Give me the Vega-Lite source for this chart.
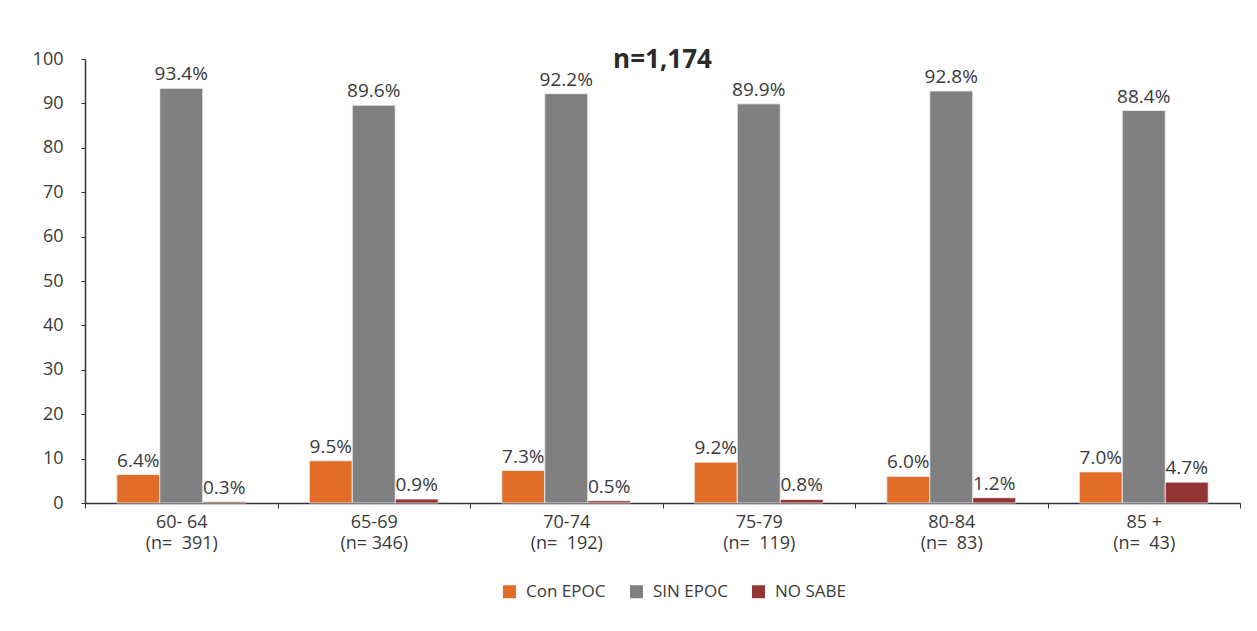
{
  "$schema": "https://vega.github.io/schema/vega-lite/v6.json",
  "width": 1155,
  "height": 444,
  "autosize": {"type": "none"},
  "padding": {"left": 85, "top": 59, "right": 17, "bottom": 128},
  "background": "white",
  "config": {
    "view": {"stroke": null},
    "font": "Open Sans",
    "text": {"font": "Open Sans"}
  },
  "title": {
    "text": "n=1,174",
    "fontSize": 26,
    "fontWeight": "bold",
    "font": "Open Sans",
    "color": "#2b2b2b",
    "anchor": "middle",
    "offset": -23
  },
  "data": {
    "values": [
      {"grupo": "60- 64|(n=\u00a0 391)", "serie": "Con EPOC", "valor": 6.4},
      {"grupo": "60- 64|(n=\u00a0 391)", "serie": "SIN EPOC", "valor": 93.4},
      {"grupo": "60- 64|(n=\u00a0 391)", "serie": "NO SABE", "valor": 0.3},
      {"grupo": "65-69|(n= 346)", "serie": "Con EPOC", "valor": 9.5},
      {"grupo": "65-69|(n= 346)", "serie": "SIN EPOC", "valor": 89.6},
      {"grupo": "65-69|(n= 346)", "serie": "NO SABE", "valor": 0.9},
      {"grupo": "70-74|(n=\u00a0 192)", "serie": "Con EPOC", "valor": 7.3},
      {"grupo": "70-74|(n=\u00a0 192)", "serie": "SIN EPOC", "valor": 92.2},
      {"grupo": "70-74|(n=\u00a0 192)", "serie": "NO SABE", "valor": 0.5},
      {"grupo": "75-79|(n=\u00a0 119)", "serie": "Con EPOC", "valor": 9.2},
      {"grupo": "75-79|(n=\u00a0 119)", "serie": "SIN EPOC", "valor": 89.9},
      {"grupo": "75-79|(n=\u00a0 119)", "serie": "NO SABE", "valor": 0.8},
      {"grupo": "80-84|(n=\u00a0 83)", "serie": "Con EPOC", "valor": 6.0},
      {"grupo": "80-84|(n=\u00a0 83)", "serie": "SIN EPOC", "valor": 92.8},
      {"grupo": "80-84|(n=\u00a0 83)", "serie": "NO SABE", "valor": 1.2},
      {"grupo": "85 +|(n=\u00a0 43)", "serie": "Con EPOC", "valor": 7.0},
      {"grupo": "85 +|(n=\u00a0 43)", "serie": "SIN EPOC", "valor": 88.4},
      {"grupo": "85 +|(n=\u00a0 43)", "serie": "NO SABE", "valor": 4.7}
    ]
  },
  "transform": [
    {"calculate": "format(datum.valor, '.1f') + '%'", "as": "etiqueta"}
  ],
  "encoding": {
    "x": {
      "field": "grupo",
      "type": "nominal",
      "sort": null,
      "scale": {"paddingInner": 0, "paddingOuter": 0},
      "axis": {
        "title": null,
        "labelAngle": 0,
        "labelExpr": "split(datum.label, '|')",
        "labelFontSize": 18,
        "labelLineHeight": 21,
        "labelColor": "#3a3a3a",
        "labelPadding": 5,
        "domainColor": "#333333",
        "domainWidth": 1.5,
        "tickColor": "#333333",
        "tickSize": 5,
        "tickBand": "extent",
        "grid": false
      }
    },
    "xOffset": {
      "field": "serie",
      "type": "nominal",
      "sort": ["Con EPOC", "SIN EPOC", "NO SABE"],
      "scale": {"paddingInner": 0, "paddingOuter": 0.74}
    },
    "y": {
      "field": "valor",
      "type": "quantitative",
      "scale": {"domain": [0, 100], "nice": false},
      "axis": {
        "title": null,
        "values": [0, 10, 20, 30, 40, 50, 60, 70, 80, 90, 100],
        "grid": false,
        "labelFontSize": 18,
        "labelColor": "#3a3a3a",
        "labelPadding": 18,
        "domainColor": "#333333",
        "domainWidth": 1.5,
        "tickColor": "#333333",
        "tickSize": 4
      }
    }
  },
  "layer": [
    {
      "mark": {"type": "bar", "stroke": "#f4f4f4", "strokeWidth": 0.8},
      "encoding": {
        "color": {
          "field": "serie",
          "type": "nominal",
          "sort": ["Con EPOC", "SIN EPOC", "NO SABE"],
          "scale": {
            "domain": ["Con EPOC", "SIN EPOC", "NO SABE"],
            "range": ["#E06C26", "#808083", "#943535"]
          },
          "legend": {
            "title": null,
            "orient": "none",
            "direction": "horizontal",
            "legendX": 416,
            "legendY": 524,
            "symbolType": "square",
            "symbolSize": 169,
            "symbolStrokeWidth": 0,
            "labelFontSize": 17,
            "labelColor": "#3a3a3a",
            "labelOffset": 8,
            "columnPadding": 22
          }
        }
      }
    },
    {
      "mark": {"type": "text", "baseline": "bottom", "dy": -4, "fontSize": 19, "color": "#3a3a3a"},
      "encoding": {
        "text": {"field": "etiqueta"}
      }
    }
  ]
}
